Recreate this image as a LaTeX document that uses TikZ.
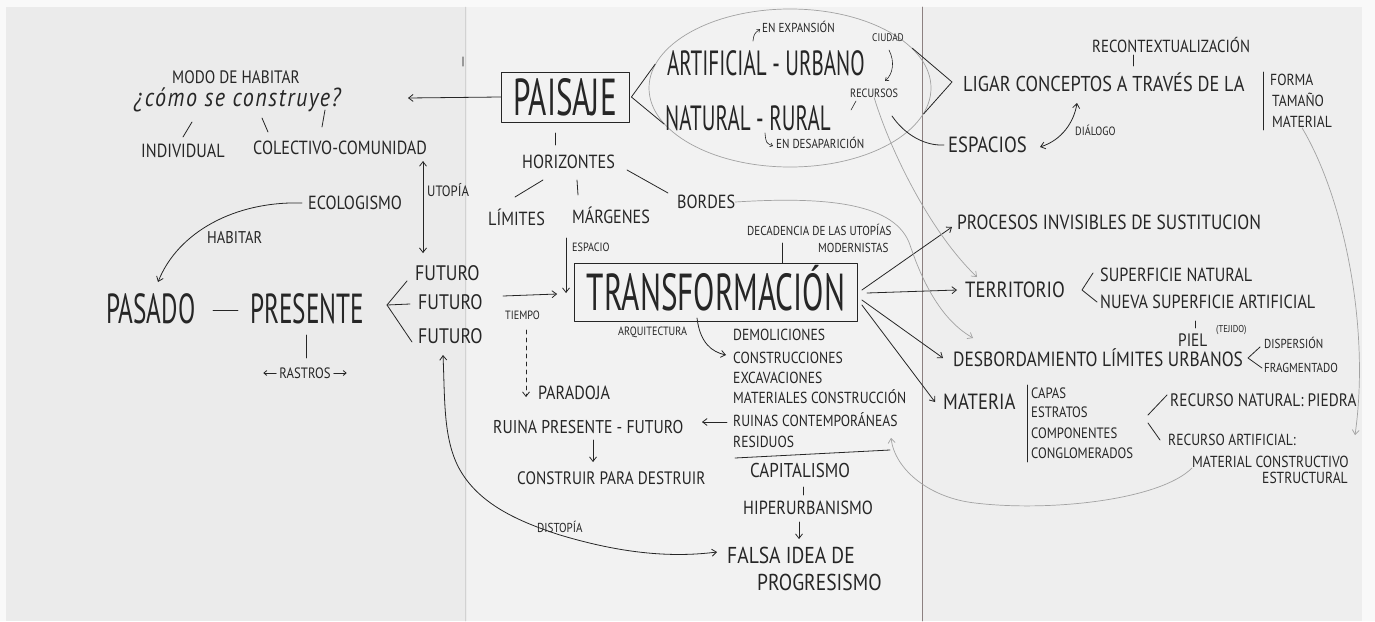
\documentclass[tikz,border=0pt]{standalone}
\usepackage{fontspec}
\newfontfamily\handfont[FakeStretch=0.85]{PT Sans}
\newfontfamily\tallfont[FakeStretch=0.6]{PT Sans}
\usetikzlibrary{arrows.meta,shapes.geometric}
\definecolor{ink}{HTML}{262626}
\definecolor{pencil}{HTML}{A2A2A2}
\definecolor{paperL}{HTML}{EBEBEB}
\definecolor{paperM}{HTML}{F2F2F2}
\definecolor{paperR}{HTML}{EEEEEE}
\definecolor{sheet}{HTML}{F9F9F9}
\definecolor{fold}{HTML}{8C8080}
\newcommand{\hf}[1]{\handfont\fontsize{#1}{#1}\selectfont}
\newcommand{\tf}[1]{\tallfont\fontsize{#1}{#1}\selectfont}
\tikzset{
  lbl/.style={inner sep=0pt, text=ink, anchor=west},
  txt/.style={lbl, font=\hf{19}},
  sml/.style={lbl, font=\hf{15}},
  tny/.style={lbl, font=\hf{12}},
  tall/.style={lbl, font=\tf{#1}},
  boxed/.style={draw=ink, line width=0.8pt, inner sep=0pt, text=ink, text depth=0pt},
  stroke/.style={draw=ink, line width=0.8pt},
  faint/.style={draw=pencil, line width=0.7pt},
}
\begin{document}
\begin{tikzpicture}[x=1pt, y=-1pt, line cap=round, line join=round,
  >={Straight Barb[length=4.5pt,width=7pt]}]
\useasboundingbox (0,0) rectangle (1375,621);
% paper
\fill[sheet] (0,0) rectangle (1375,621);
\fill[paperL] (6,7) rectangle (467,621);
\fill[paperM] (467,7) rectangle (922,621);
\fill[paperR] (922,7) rectangle (1362,621);
\draw[gray!35, line width=0.5pt] (465,7) -- (465,621);
\draw[fold, line width=0.6pt] (922,7) -- (922,621);
\draw[gray!80, line width=1.2pt] (463,57) -- (463,66);

% left sheet
\node[txt, font=\hf{18}] (modo) at (172,77) {MODO DE HABITAR};
\node[lbl, anchor=base west, font=\handfont\itshape\fontsize{26}{26}\selectfont\addfontfeatures{LetterSpace=6}] (como) at (134,106) {¿cómo se construye?};
\node[txt] (indiv) at (141,151) {INDIVIDUAL};
\node[txt] (colec) at (253,148) {COLECTIVO-COMUNIDAD};
\draw[stroke] (192,122) -- (183,137);
\draw[stroke] (262,118) -- (268,132);
\draw[stroke] (325,110) -- (322,127);
\node[sml] (utopia) at (427,190) {UTOPÍA};
\node[txt] (ecolog) at (308,203) {ECOLOGISMO};
\node[txt, font=\hf{17}] (habitar) at (207,238) {HABITAR};
\node[tall=42] (pasado) at (106,309) {PASADO};
\node[tall=42] (presente) at (250,309) {PRESENTE};
\draw[stroke] (213,310) -- (238,310);
\node[txt, font=\hf{21}] (fut1) at (415,273) {FUTURO};
\node[txt, font=\hf{21}] (fut2) at (418,302) {FUTURO};
\node[txt, font=\hf{21}] (fut3) at (418,336) {FUTURO};
\node[sml, anchor=center] (rastros) at (305,373) {RASTROS};
\draw[stroke] (306,335) -- (306,358);
\draw[stroke, -{Straight Barb[length=3pt,width=5pt]}] ([xshift=-3pt]rastros.west) -- ++(-13,0);
\draw[stroke, -{Straight Barb[length=3pt,width=5pt]}] ([xshift=3pt]rastros.east) -- ++(13,0);
% branches of PRESENTE
\coordinate (vP) at (387,305);
\draw[stroke] (407,281) -- (vP) -- (412,342);
\draw[stroke] (vP) -- (410,304);
\draw[stroke, <->] (utopia.west |- colec.south) ++(-4,6) -- ++(0,92);
\draw[stroke, ->] (ecolog.west) ++(-6,0) .. controls (235,201) and (178,232) .. (158,282);

% middle sheet
\node[boxed, font=\tf{52}, text height=36pt, minimum width=128pt, minimum height=50pt] (paisaje) at (565,97) {PAISAJE};
\draw[stroke, ->] (paisaje.west) -- (408,98);
\node[draw=pencil, line width=0.7pt, ellipse, minimum width=282pt, minimum height=158pt] (campo) at (790,88) {};
\draw[stroke] (campo.170) -- ([xshift=2pt]paisaje.east) -- (campo.196);
\node[tall=35] (artif) at (667,63) {ARTIFICIAL - URBANO};
\node[tall=35] (natur) at (665,118) {NATURAL - RURAL};
\node[tny, font=\hf{13}] (expan) at (762,27) {EN EXPANSIÓN};
\draw[stroke, line width=0.6pt, -{Straight Barb[length=2.5pt,width=4pt]}] (753,41) .. controls (754,34) .. (760,29);
\node[tny, font=\hf{11}] (ciudad) at (872,38) {CIUDAD};
\draw[stroke, line width=0.6pt, -{Straight Barb[length=3pt,width=4.5pt]}] (889,50) .. controls (895,62) and (893,74) .. (885,81);
\node[tny] (recurs) at (850,93) {RECURSOS};
\draw[stroke, line width=0.6pt] (851,110) -- (856,101);
\node[tny, font=\hf{13}] (desap) at (776,143) {EN DESAPARICIÓN};
\draw[stroke, line width=0.6pt, -{Straight Barb[length=2.5pt,width=4pt]}] (765,133) .. controls (766,143) .. (773,146);
\draw[stroke] (555,133) -- (555,145);
\node[txt] (horiz) at (522,162) {HORIZONTES};
\node[txt] (limites) at (488,217) {LÍMITES};
\node[txt] (margen) at (572,215) {MÁRGENES};
\node[txt] (bordes) at (677,202) {BORDES};
\draw[stroke] (543,180) -- (515,197);
\draw[stroke] (577,180) -- (578,195);
\draw[stroke] (627,170) -- (668,193);
\node[tny] (espacio) at (572,247) {ESPACIO};
\node[boxed, font=\tf{52}, text height=36pt, minimum width=283pt, minimum height=58pt] (transf) at (716,292) {TRANSFORMACIÓN};
\draw[stroke, ->] (566,238) -- (566,293);
\node[sml, font=\hf{13}] (decad) at (747,230) {DECADENCIA DE LAS UTOPÍAS};
\node[sml, font=\hf{13}] (modern) at (818,248) {MODERNISTAS};
\draw[stroke] (782,243) -- (782,263);
\draw[stroke, ->] (503,296) -- ([xshift=-17pt,yshift=-2pt]transf.west);
\node[tny] (tiempo) at (505,315) {TIEMPO};
\draw[stroke, dashed, dash pattern=on 4pt off 4pt, ->] (526,330) -- (526,397);
\node[txt] (paradoja) at (538,393) {PARADOJA};
\node[txt, font=\hf{18.5}] (ruina) at (493,427) {RUINA PRESENTE - FUTURO};
\draw[stroke, ->] (593,440) -- (593,462);
\node[txt, font=\hf{18}] (construir) at (517,478) {CONSTRUIR PARA DESTRUIR};
\node[tny] (arqui) at (618,332) {ARQUITECTURA};
\draw[stroke, ->] (697,318) .. controls (700,343) and (712,352) .. (726,355);
% effects of transformation
\node[sml, font=\hf{16}] (demol) at (733,335) {DEMOLICIONES};
\node[sml, font=\hf{16}] (constru) at (733,358) {CONSTRUCCIONES};
\node[sml, font=\hf{16}] (excav) at (733,378) {EXCAVACIONES};
\node[sml, font=\hf{16}] (matcons) at (733,397) {MATERIALES CONSTRUCCIÓN};
\node[sml, font=\hf{16}] (ruinas) at (733,420) {RUINAS CONTEMPORÁNEAS};
\node[sml, font=\hf{16}] (resid) at (733,442) {RESIDUOS};
\draw[stroke, ->] ([xshift=-6pt,yshift=-2pt]ruinas.west) -- (702,422);
\draw[stroke] (735,458) -- (890,450);
\node[txt, font=\hf{20}] (capital) at (750,470) {CAPITALISMO};
\draw[stroke] (803,487) -- (803,495);
\node[txt] (hiper) at (743,508) {HIPERURBANISMO};
\draw[stroke, ->] (799,522) -- (799,539);
\node[txt, font=\hf{23}] (falsa) at (727,555) {FALSA IDEA DE};
\node[txt, font=\hf{23}] (progr) at (757,582) {PROGRESISMO};
\node[sml, font=\hf{13}] (distopia) at (537,527) {DISTOPÍA};
\draw[stroke, <->] (443,355) .. controls (445,400) and (443,440) .. (460,470)
  .. controls (480,505) and (520,522) .. (560,535)
  .. controls (620,553) and (670,558) .. ([xshift=-10pt,yshift=3pt]falsa.west);

% right sheet
\node[txt, font=\hf{21.5}] (ligar) at (963,82) {LIGAR CONCEPTOS A TRAVÉS DE LA};
\draw[stroke] (campo.18) -- ([xshift=-11pt]ligar.west) -- (campo.-11);
\node[sml, font=\hf{17.5}] (recont) at (1092,45) {RECONTEXTUALIZACIÓN};
\draw[stroke] (1133,55) -- (1133,66);
\draw[stroke] (1263,72) -- (1263,130);
\node[sml, font=\hf{16}] (forma) at (1270,80) {FORMA};
\node[sml, font=\hf{16}] (tamano) at (1272,100) {TAMAÑO};
\node[sml, font=\hf{16}] (material) at (1272,122) {MATERIAL};
\node[txt, font=\hf{22}] (espacios) at (948,145) {ESPACIOS};
\draw[stroke] (892,116) .. controls (905,135) and (925,146) .. ([xshift=-4pt]espacios.west);
\node[tny, font=\hf{12}] (dialogo) at (1075,130) {DIÁLOGO};
\draw[stroke, <->] (1040,147) .. controls (1062,140) and (1074,122) .. (1077,103);
\node[txt, font=\hf{20.5}] (procesos) at (957,222) {PROCESOS INVISIBLES DE SUSTITUCION};
\node[txt, font=\hf{22}] (territ) at (965,290) {TERRITORIO};
\draw[stroke] (1093,273) -- (1082,290) -- (1097,302);
\node[txt, font=\hf{19}] (supnat) at (1100,275) {SUPERFICIE NATURAL};
\node[txt, font=\hf{19}] (nueva) at (1100,302) {NUEVA SUPERFICIE ARTIFICIAL};
\node[txt, font=\hf{20.5}] (desb) at (953,358) {DESBORDAMIENTO LÍMITES URBANOS};
\draw[stroke] (1195,321) -- (1195,328);
\node[txt, font=\hf{18}] (piel) at (1178,340) {PIEL};
\node[tny, font=\hf{10}] (tejido) at (1216,330) {(TEJIDO)};
\draw[stroke] (1260,347) -- (1248,358) -- (1262,368);
\node[tny, font=\hf{13}] (disp) at (1264,343) {DISPERSIÓN};
\node[tny, font=\hf{13}] (frag) at (1264,368) {FRAGMENTADO};
\node[txt, font=\hf{22}] (materia) at (943,402) {MATERIA};
\draw[stroke] (1027,385) -- (1027,462);
\node[sml] (capas) at (1031,393) {CAPAS};
\node[sml] (estratos) at (1031,412) {ESTRATOS};
\node[sml] (compon) at (1031,433) {COMPONENTES};
\node[sml] (conglom) at (1031,453) {CONGLOMERADOS};
\draw[stroke] (1148,415) -- (1167,395);
\draw[stroke] (1148,423) -- (1160,440);
\node[txt, font=\hf{18}] (recnat) at (1170,400) {RECURSO NATURAL: PIEDRA};
\node[sml, font=\hf{16}] (recart) at (1168,440) {RECURSO ARTIFICIAL:};
\node[sml, font=\hf{16}] (matcon) at (1192,462) {MATERIAL CONSTRUCTIVO};
\node[sml, font=\hf{16}] (estruc) at (1262,478) {ESTRUCTURAL};
% arrows out of TRANSFORMACION
\draw[stroke, ->] ([xshift=4pt,yshift=2pt]transf.east) -- ([xshift=-5pt,yshift=-5pt]procesos.west);
\draw[stroke, ->] ([xshift=9pt,yshift=-1pt]transf.east) -- ([xshift=-8pt]territ.west);
\draw[stroke, ->] ([xshift=4pt,yshift=-8pt]transf.east) -- ([xshift=-10pt]desb.west);
\draw[stroke, ->] ([xshift=4pt,yshift=-13pt]transf.east) -- ([xshift=-8pt]materia.west);

% pencil links
\draw[faint, ->] (recurs.south) .. controls (890,150) and (930,232) .. (977,277);
\draw[faint, ->] (bordes.east) .. controls (830,196) and (896,204) .. (910,245)
  .. controls (925,290) and (945,322) .. (973,338);
\draw[faint, ->] (material.south) .. controls (1345,200) and (1370,330) .. (1355,435);
\draw[faint, ->] (matcon.south west) .. controls (1160,500) and (1050,512) .. (975,503)
  .. controls (930,498) and (895,470) .. (891,438);
\end{tikzpicture}
\end{document}
